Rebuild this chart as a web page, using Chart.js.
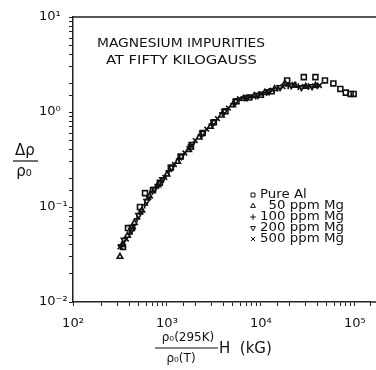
<!DOCTYPE html>
<html><head><meta charset="utf-8">
<script src="https://cdn.jsdelivr.net/npm/chart.js@4.4.1/dist/chart.umd.min.js"></script>
<style>html,body{margin:0;padding:0;background:#fff}canvas{display:block}</style>
</head><body>
<canvas id="c" width="376" height="370"></canvas>
<script>
// ---- data ----
const seriesNames = ['Pure Al', '50 ppm Mg', '100 ppm Mg', '200 ppm Mg', '500 ppm Mg'];

const pureAlX = [340, 385, 425, 516, 584, 710, 840, 1100, 1400, 1800, 2400, 3150, 4200, 5500, 7500, 10000, 13000, 19000, 28600, 38000, 48000, 59000, 70000, 80000, 90000, 97000];
const pureAlY = [0.038, 0.060, 0.060, 0.10, 0.14, 0.15, 0.18, 0.26, 0.34, 0.43, 0.60, 0.78, 1.02, 1.30, 1.42, 1.52, 1.65, 2.15, 2.33, 2.33, 2.15, 2.00, 1.75, 1.60, 1.55, 1.55];

const mg50X = [316, 335, 380, 450, 540, 650, 800, 1000, 1300, 1700, 2200, 2900, 3800, 5000, 6500, 8500, 11000, 14000, 18000, 23000, 30000, 38000];
const mg50Y = [0.030, 0.040, 0.050, 0.068, 0.092, 0.13, 0.17, 0.22, 0.30, 0.40, 0.54, 0.70, 0.92, 1.18, 1.38, 1.48, 1.60, 1.75, 2.00, 1.90, 1.85, 1.90];

const mg100X = [330, 400, 480, 580, 700, 860, 1050, 1350, 1750, 2300, 3000, 3900, 5100, 6700, 8800, 11500, 15000, 19500, 25000, 32000, 40000];
const mg100Y = [0.040, 0.052, 0.075, 0.105, 0.145, 0.185, 0.24, 0.32, 0.43, 0.57, 0.74, 0.98, 1.22, 1.40, 1.47, 1.60, 1.78, 1.88, 1.85, 1.85, 1.88];

const mg200X = [350, 420, 500, 610, 740, 900, 1120, 1420, 1850, 2400, 3150, 4100, 5400, 7100, 9300, 12200, 16000, 21000, 27000, 35000];
const mg200Y = [0.045, 0.057, 0.082, 0.115, 0.155, 0.195, 0.26, 0.34, 0.46, 0.60, 0.78, 1.02, 1.30, 1.42, 1.50, 1.65, 1.82, 1.90, 1.82, 1.86];

const mg500X = [316, 370, 440, 530, 640, 780, 950, 1200, 1550, 2000, 2650, 3450, 4500, 5900, 7700, 10000, 13200, 17200, 22500, 29000, 37000, 42000];
const mg500Y = [0.038, 0.046, 0.062, 0.088, 0.125, 0.165, 0.205, 0.28, 0.37, 0.50, 0.66, 0.85, 1.10, 1.38, 1.44, 1.55, 1.70, 1.85, 1.95, 1.86, 1.88, 1.90];

const xTickValues = [1e2, 1e3, 1e4, 1e5];
const xTickLabels = ['10²', '10³', '10⁴', '10⁵'];
const yTickValues = [1e-2, 1e-1, 1e0, 1e1];
const yTickLabels = ['10⁻²', '10⁻¹', '10⁰', '10¹'];

const titleLines = ['MAGNESIUM IMPURITIES', 'AT FIFTY KILOGAUSS'];
const yTitleTop = 'Δρ', yTitleBottom = 'ρ₀';
const xTitleTop = 'ρ₀(295K)', xTitleBottom = 'ρ₀(T)', xTitleRight = 'H  (kG)';

// ---- build ----
const zip = (xs, ys) => xs.map((x, i) => ({x, y: ys[i]}));
const INK = '#111';
const styles = [
  {pointStyle: 'rect', pointRadius: 3.5, rotation: 0},
  {pointStyle: 'triangle', pointRadius: 3.2, rotation: 0},
  {pointStyle: 'cross', pointRadius: 3.4, rotation: 0},
  {pointStyle: 'triangle', pointRadius: 3.2, rotation: 180},
  {pointStyle: 'crossRot', pointRadius: 3.3, rotation: 0},
];
const series = [zip(pureAlX, pureAlY), zip(mg50X, mg50Y), zip(mg100X, mg100Y), zip(mg200X, mg200Y), zip(mg500X, mg500Y)];

const datasets = series.map((d, i) => ({
  label: seriesNames[i],
  data: d,
  showLine: false,
  pointStyle: styles[i].pointStyle,
  pointRadius: styles[i].pointRadius,
  rotation: styles[i].rotation,
  borderColor: INK,
  backgroundColor: 'rgba(0,0,0,0)',
  borderWidth: 1.6,
  pointHoverRadius: styles[i].pointRadius,
}));

function labelFor(values, labels, v) {
  for (let i = 0; i < values.length; i++) {
    if (Math.abs(Math.log10(v) - Math.log10(values[i])) < 1e-6) return labels[i];
  }
  return '';
}

function fitText(ctx, s, x, y, w, font) {
  ctx.font = font;
  const m = ctx.measureText(s).width;
  ctx.save();
  ctx.translate(x, y);
  ctx.scale(w / m, 1);
  ctx.textAlign = 'left';
  ctx.textBaseline = 'middle';
  ctx.fillText(s, 0, 0);
  ctx.restore();
}

function drawSymbol(ctx, kind, x, y, r) {
  ctx.beginPath();
  if (kind === 0) { const s = r * Math.SQRT1_2; ctx.rect(x - s, y - s, 2 * s, 2 * s); }
  else if (kind === 1) { ctx.moveTo(x, y - r); ctx.lineTo(x + r * 0.87, y + r * 0.5); ctx.lineTo(x - r * 0.87, y + r * 0.5); ctx.closePath(); }
  else if (kind === 2) { ctx.moveTo(x - r, y); ctx.lineTo(x + r, y); ctx.moveTo(x, y - r); ctx.lineTo(x, y + r); }
  else if (kind === 3) { ctx.moveTo(x, y + r); ctx.lineTo(x + r * 0.87, y - r * 0.5); ctx.lineTo(x - r * 0.87, y - r * 0.5); ctx.closePath(); }
  else { const s = r * 0.75; ctx.moveTo(x - s, y - s); ctx.lineTo(x + s, y + s); ctx.moveTo(x + s, y - s); ctx.lineTo(x - s, y + s); }
  ctx.stroke();
}

const decor = {
  id: 'decor',
  afterDraw(chart) {
    const ctx = chart.ctx, a = chart.chartArea;
    ctx.save();
    ctx.strokeStyle = '#222';
    ctx.lineWidth = 1.5;
    ctx.beginPath();
    ctx.moveTo(a.left, a.top); ctx.lineTo(376, a.top);
    ctx.moveTo(a.right - 1, a.bottom); ctx.lineTo(376, a.bottom);
    ctx.stroke();

    ctx.fillStyle = INK;
    const condensed = '13px "DejaVu Sans Condensed", "DejaVu Sans", sans-serif';
    fitText(ctx, titleLines[0], 97, 44, 168, condensed);
    fitText(ctx, titleLines[1], 106, 61, 151, condensed);

    // legend
    const legFont = '12.5px "DejaVu Sans", sans-serif';
    ctx.font = legFont;
    const ref = ctx.measureText('100 ppm Mg').width;
    const k = 84 / ref;
    const rows = [195, 206, 217, 228, 239];
    ctx.strokeStyle = INK;
    ctx.lineWidth = 1;
    seriesNames.forEach((name, i) => {
      drawSymbol(ctx, i, 253, rows[i], 2.8);
      const txt = (name.startsWith('50 ') ? '\u2007' : '') + name;
      ctx.save();
      ctx.translate(260, rows[i]);
      ctx.scale(k, 1);
      ctx.textAlign = 'left'; ctx.textBaseline = 'middle';
      ctx.fillText(txt, 0, 0);
      ctx.restore();
    });

    // y-axis title (fraction)
    ctx.font = '15px "DejaVu Sans", sans-serif';
    ctx.textAlign = 'center'; ctx.textBaseline = 'middle';
    ctx.fillText(yTitleTop, 25, 151);
    ctx.fillText(yTitleBottom, 24, 172);
    ctx.lineWidth = 1.2;
    ctx.beginPath(); ctx.moveTo(13, 161); ctx.lineTo(38, 161); ctx.stroke();

    // x-axis title (fraction + H (kG))
    ctx.font = '12px "DejaVu Sans", sans-serif';
    ctx.fillText(xTitleTop, 188, 338);
    ctx.fillText(xTitleBottom, 181, 359);
    ctx.beginPath(); ctx.moveTo(155, 348); ctx.lineTo(218, 348); ctx.stroke();
    ctx.font = '15px "DejaVu Sans", sans-serif';
    ctx.textAlign = 'left';
    ctx.fillText(xTitleRight, 219, 349);
    ctx.restore();
  }
};

Chart.defaults.font.family = '"DejaVu Sans", sans-serif';
Chart.defaults.color = INK;

new Chart(document.getElementById('c'), {
  type: 'scatter',
  data: {datasets},
  options: {
    responsive: false,
    animation: false,
    events: [],
    layout: {padding: {left: 39, top: 17, right: 0, bottom: 0}},
    plugins: {legend: {display: false}, tooltip: {enabled: false}, title: {display: false}},
    scales: {
      x: {
        type: 'logarithmic',
        min: 100, max: 148000,
        afterFit: s => { s.height = 68; s.paddingRight = 0; },
        border: {display: true, color: '#222', width: 1.5},
        grid: {display: true, drawOnChartArea: false, drawTicks: true, tickLength: 4, color: '#222', tickColor: '#222'},
        ticks: {
          autoSkip: false, maxRotation: 0, minRotation: 0, padding: 10,
          font: {size: 13},
          callback: v => labelFor(xTickValues, xTickLabels, v)
        }
      },
      y: {
        type: 'logarithmic',
        min: 0.01, max: 10,
        afterFit: s => { s.width = 34; },
        border: {display: true, color: '#222', width: 1.5},
        grid: {display: true, drawOnChartArea: false, drawTicks: true, tickLength: 4, color: '#222', tickColor: '#222'},
        ticks: {
          autoSkip: false, crossAlign: 'far', padding: 4,
          font: {size: 13},
          callback: v => labelFor(yTickValues, yTickLabels, v)
        }
      }
    }
  },
  plugins: [decor]
});
</script>
</body></html>
